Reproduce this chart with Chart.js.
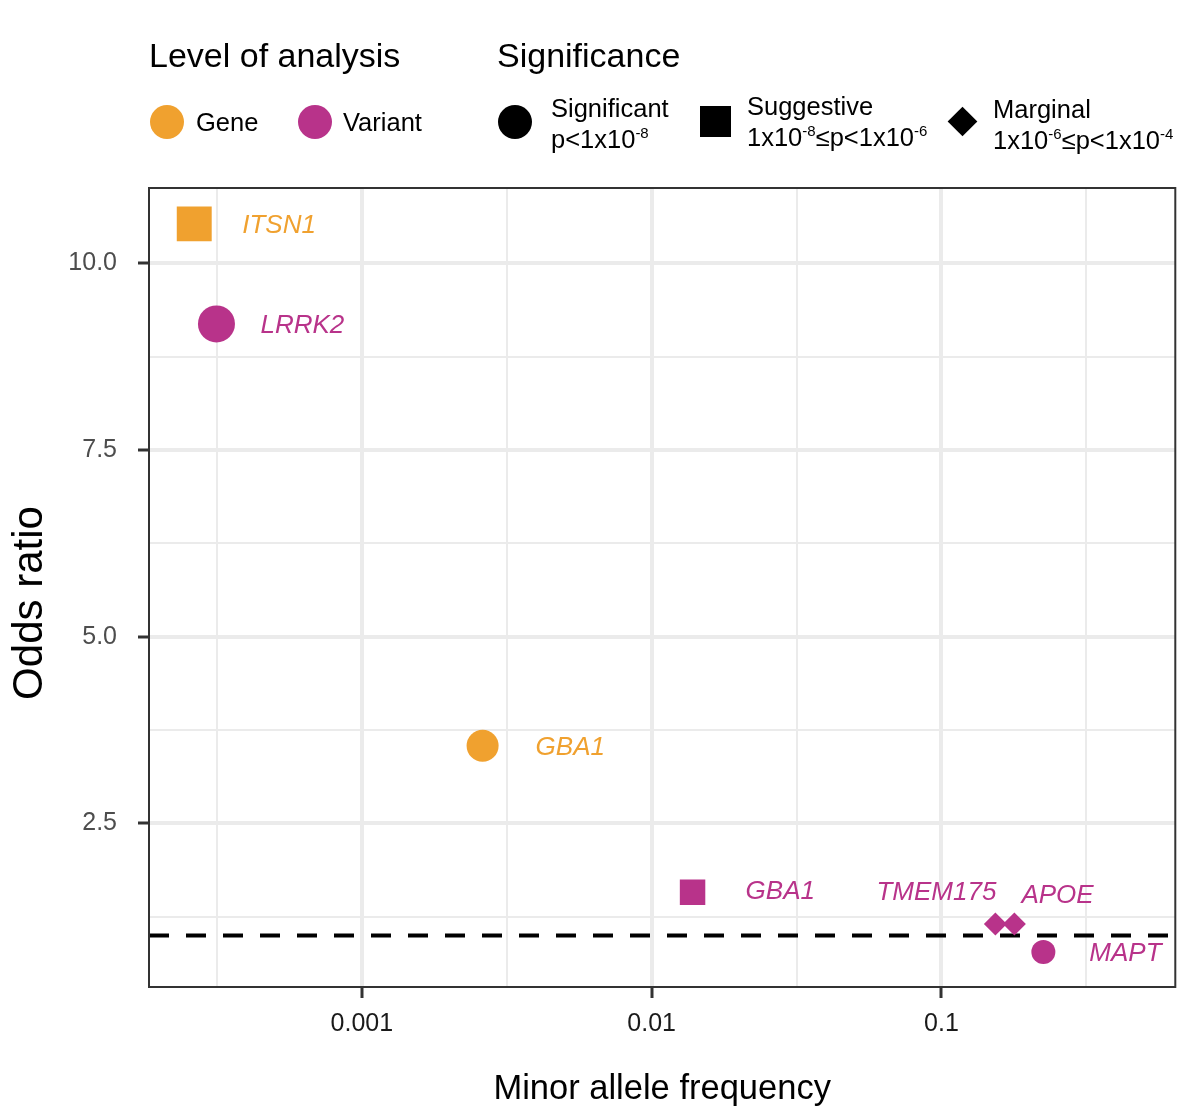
<!DOCTYPE html>
<html><head><meta charset="utf-8">
<script src="https://cdn.jsdelivr.net/npm/chart.js@4.4.1/dist/chart.umd.min.js"></script>
<style>
html,body{margin:0;padding:0;background:#fff;}
#wrap{position:relative;width:1200px;height:1120px;font-family:'Liberation Sans',Arial,Helvetica,sans-serif;color:#000;overflow:hidden;}
canvas{position:absolute;left:0;top:0;}
.t{position:absolute;white-space:nowrap;}
.title{font-size:34px;line-height:40px;}
.lab{font-size:25.5px;line-height:31px;}
.lab sup{font-size:15px;line-height:0;vertical-align:baseline;position:relative;top:-10px;}
.sym{position:absolute;}
#ytitle{position:absolute;left:-122px;top:578px;width:300px;height:50px;line-height:50px;text-align:center;font-size:42px;transform:rotate(-90deg);white-space:nowrap;}
</style></head>
<body><div id="wrap">
<canvas id="c" width="1200" height="1120"></canvas>

<div class="t title" style="left:149px;top:35px">Level of analysis</div>
<div class="t title" style="left:497px;top:35px">Significance</div>

<div class="sym" style="left:150px;top:105px;width:34px;height:34px;border-radius:50%;background:#F0A12F"></div>
<div class="t lab" style="left:196px;top:107px">Gene</div>
<div class="sym" style="left:298px;top:105px;width:34px;height:34px;border-radius:50%;background:#B8338A"></div>
<div class="t lab" style="left:343px;top:107px">Variant</div>

<div class="sym" style="left:498px;top:105px;width:34px;height:34px;border-radius:50%;background:#000"></div>
<div class="t lab" style="left:551px;top:93px">Significant<br>p&lt;1x10<sup>-8</sup></div>
<div class="sym" style="left:700px;top:106px;width:31px;height:31px;background:#000"></div>
<div class="t lab" style="left:747px;top:91px">Suggestive<br>1x10<sup>-8</sup>≤p&lt;1x10<sup>-6</sup></div>
<div class="sym" style="left:952px;top:111px;width:21px;height:21px;background:#000;transform:rotate(45deg)"></div>
<div class="t lab" style="left:993px;top:94px">Marginal<br>1x10<sup>-6</sup>≤p&lt;1x10<sup>-4</sup></div>

<div id="ytitle">Odds ratio</div>
</div>
<script>
// ---- data ----
const genes        = ['ITSN1', 'LRRK2', 'GBA1', 'GBA1', 'TMEM175', 'APOE', 'MAPT'];
const level        = ['Gene', 'Variant', 'Gene', 'Variant', 'Variant', 'Variant', 'Variant'];
const significance = ['Suggestive', 'Significant', 'Significant', 'Suggestive', 'Marginal', 'Marginal', 'Significant'];
const maf          = [0.000264, 0.000315, 0.00261, 0.01384, 0.1535, 0.1785, 0.2247];
const oddsRatio    = [10.53, 9.19, 3.54, 1.58, 1.153, 1.153, 0.778];
const referenceOR  = 1;

// ---- axes ----
const xRange = [0.0001843, 0.641];
const yRange = [0.31, 11.01];
const xMajorTicks = [0.001, 0.01, 0.1];
const xMinorTicks = [0.000316228, 0.00316228, 0.0316228, 0.316228];
const yMajorTicks = [2.5, 5.0, 7.5, 10.0];
const yMinorTicks = [1.25, 3.75, 6.25, 8.75];

// ---- styles (not data) ----
const levelColor  = {Gene: '#F0A12F', Variant: '#B8338A'};
const shapeFor    = {Significant: 'circle', Suggestive: 'rect', Marginal: 'rectRot'};
const markerRadius = [24.7, 18.5, 16, 18, 11.5, 11.5, 12];
const labelOffset = [[48,2,'left'],[44,2,'left'],[53,2,'left'],[53,0,'left'],[1,-31,'right'],[7,-28,'left'],[46,2,'left']];

const FONT = "'Liberation Sans', Arial, Helvetica, sans-serif";
const isMajor = (list, v) => list.some(m => Math.abs(m - v) / m < 1e-6);

const labelPlugin = {
  id: 'geneLabels',
  afterDatasetsDraw(chart) {
    const meta = chart.getDatasetMeta(0);
    const ctx = chart.ctx;
    ctx.save();
    ctx.font = 'italic 26px ' + FONT;
    ctx.textBaseline = 'middle';
    meta.data.forEach((el, i) => {
      const o = labelOffset[i];
      ctx.fillStyle = levelColor[level[i]];
      ctx.textAlign = o[2];
      ctx.fillText(genes[i], el.x + o[0], el.y + o[1]);
    });
    ctx.restore();
  },
  afterDraw(chart) {
    const a = chart.chartArea, ctx = chart.ctx;
    ctx.save();
    ctx.strokeStyle = '#333333';
    ctx.lineWidth = 2;
    ctx.strokeRect(a.left, a.top, a.right - a.left, a.bottom - a.top);
    ctx.restore();
  }
};

new Chart(document.getElementById('c'), {
  type: 'scatter',
  data: {
    datasets: [
      {
        label: 'points',
        order: 0,
        data: maf.map((x, i) => ({x: x, y: oddsRatio[i]})),
        pointStyle: significance.map(s => shapeFor[s]),
        pointRadius: markerRadius,
        pointHoverRadius: markerRadius,
        backgroundColor: level.map(l => levelColor[l]),
        pointBackgroundColor: level.map(l => levelColor[l]),
        borderWidth: 0,
        pointBorderWidth: 0
      },
      {
        label: 'reference',
        order: 5,
        type: 'line',
        data: [{x: xRange[0], y: referenceOR}, {x: xRange[1], y: referenceOR}],
        borderColor: '#000',
        borderWidth: 4,
        borderDash: [20, 17],
        pointRadius: 0,
        showLine: true,
        fill: false
      }
    ]
  },
  options: {
    responsive: false,
    animation: false,
    devicePixelRatio: 1,
    layout: {padding: {top: 188, right: 24, left: 0, bottom: 0}},
    plugins: {legend: {display: false}, tooltip: {enabled: false}},
    scales: {
      x: {
        type: 'logarithmic',
        min: xRange[0], max: xRange[1],
        afterBuildTicks: s => { s.ticks = xMinorTicks.concat(xMajorTicks).sort((a,b)=>a-b).map(v => ({value: v})); },
        afterFit: s => { s.height = 133; },
        ticks: {
          autoSkip: false, maxRotation: 0,
          padding: 11,
          color: '#1a1a1a',
          font: {size: 25, family: FONT},
          callback: (v) => isMajor(xMajorTicks, v) ? String(v) : ''
        },
        grid: {
          color: '#EBEBEB',
          lineWidth: c => (c.tick && isMajor(xMajorTicks, c.tick.value)) ? 4 : 2,
          tickLength: 11,
          tickWidth: 3,
          tickColor: c => (c.tick && isMajor(xMajorTicks, c.tick.value)) ? '#333333' : 'rgba(0,0,0,0)'
        },
        border: {display: false},
        title: {display: true, text: 'Minor allele frequency', color: '#000', font: {size: 34.5, family: FONT}, padding: {top: 0, bottom: 10}}
      },
      y: {
        type: 'linear',
        min: yRange[0], max: yRange[1],
        afterBuildTicks: s => { s.ticks = yMinorTicks.concat(yMajorTicks).sort((a,b)=>a-b).map(v => ({value: v})); },
        afterFit: s => { s.width = 149; },
        ticks: {
          autoSkip: false,
          padding: 21,
          color: '#4D4D4D',
          font: {size: 25, family: FONT},
          callback: (v) => isMajor(yMajorTicks, v) ? v.toFixed(1) : ''
        },
        grid: {
          color: '#EBEBEB',
          lineWidth: c => (c.tick && isMajor(yMajorTicks, c.tick.value)) ? 4 : 2,
          tickLength: 11,
          tickWidth: 3,
          tickColor: c => (c.tick && isMajor(yMajorTicks, c.tick.value)) ? '#333333' : 'rgba(0,0,0,0)'
        },
        border: {display: false},
        title: {display: false}
      }
    }
  },
  plugins: [labelPlugin]
});
</script>
</body></html>
